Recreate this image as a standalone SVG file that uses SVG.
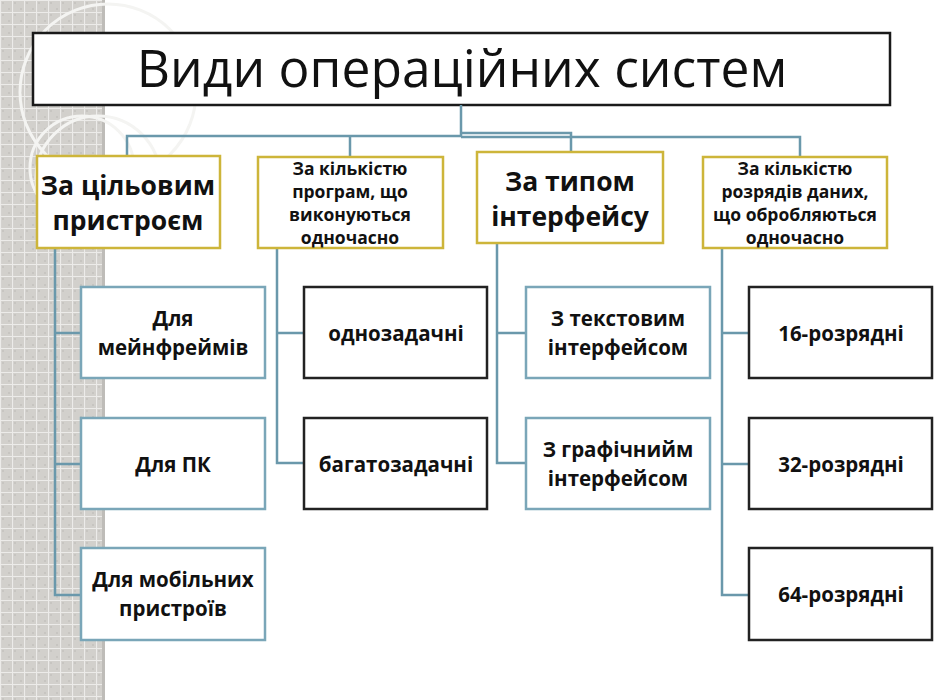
<svg xmlns="http://www.w3.org/2000/svg" width="940" height="700" viewBox="0 0 940 700">
<defs>
<pattern id="grid" width="12" height="12" patternUnits="userSpaceOnUse">
<rect width="12" height="12" fill="#d2d0cc"/>
<circle cx="3" cy="3" r="1" fill="#c4c2be"/>
<circle cx="9" cy="9" r="1" fill="#c4c2be"/>
<path d="M0 0.5H12M0.5 0V12" stroke="#ecebe9" stroke-width="1.2"/>
</pattern>
<style>
.cat{fill:#fff;stroke:#cdb53a;stroke-width:2.5}
.blue{fill:#fff;stroke:#7aa6b8;stroke-width:2.5}
.blk{fill:#fff;stroke:#222;stroke-width:2.5}
.t{font-family:"Open Sans","Noto Sans","DejaVu Sans",sans-serif;font-weight:bold;fill:#111;text-anchor:middle}
.big{font-size:26.5px}
.sm{font-size:17.5px}
.ch{font-size:20.5px}
.con{fill:none;stroke:#6a98ab;stroke-width:2.5}
</style>
</defs>
<rect width="940" height="700" fill="#fff"/>
<rect x="0" y="0" width="104" height="700" fill="url(#grid)"/>
<rect x="102" y="0" width="3" height="700" fill="#bebcb8"/>
<g fill="none" stroke="#f4f4f2" stroke-width="3">
<circle cx="108" cy="92" r="88"/>
<circle cx="82" cy="168" r="52"/>
<circle cx="98" cy="178" r="62"/>
</g>
<g id="title">
<rect x="33" y="33" width="857" height="72" fill="#fff" stroke="#1a1a1a" stroke-width="2.5"/>
<text x="462" y="87" font-family="'Open Sans','Noto Sans',sans-serif" font-size="51.5" fill="#111" text-anchor="middle">Види операційних систем</text>
</g>
<g id="connectors">
<path class="con" d="M461 105V136H127V156"/>
<path class="con" d="M461 133H571V152"/>
<path class="con" d="M461 137H800V157"/>
<path class="con" d="M350 136V157"/>
<path class="con" d="M55 248V595H81M55 333H81M55 464H81"/>
<path class="con" d="M277 248V463H304M277 333H304"/>
<path class="con" d="M497 243V463H526M497 333H526"/>
<path class="con" d="M722 248V595H749M722 333H749M722 464H749"/>
</g>
<g id="cat1"><rect class="cat" x="37" y="156" width="183" height="92"/>
<text class="t big" x="128" y="195">За цільовим</text><text class="t big" x="128" y="230">пристроєм</text></g>
<g id="cat2"><rect class="cat" x="258" y="157" width="185" height="91"/>
<text class="t sm" x="350" y="175">За кількістю</text><text class="t sm" x="350" y="198">програм, що</text><text class="t sm" x="350" y="221">виконуються</text><text class="t sm" x="350" y="244">одночасно</text></g>
<g id="cat3"><rect class="cat" x="477" y="152" width="186" height="91"/>
<text class="t big" x="570" y="191">За типом</text><text class="t big" x="570" y="226">інтерфейсу</text></g>
<g id="cat4"><rect class="cat" x="703" y="157" width="184" height="91"/>
<text class="t sm" x="795" y="175">За кількістю</text><text class="t sm" x="795" y="198">розрядів даних,</text><text class="t sm" x="795" y="221">що обробляються</text><text class="t sm" x="795" y="244">одночасно</text></g>
<g id="c1a"><rect class="blue" x="81" y="287" width="184" height="91"/>
<text class="t ch" x="173" y="326">Для</text><text class="t ch" x="173" y="355">мейнфреймів</text></g>
<g id="c1b"><rect class="blue" x="81" y="418" width="184" height="91"/>
<text class="t ch" x="173" y="472">Для ПК</text></g>
<g id="c1c"><rect class="blue" x="81" y="548" width="184" height="92"/>
<text class="t ch" x="173" y="587">Для мобільних</text><text class="t ch" x="173" y="616">пристроїв</text></g>
<g id="c2a"><rect class="blk" x="304" y="287" width="183" height="91"/>
<text class="t ch" x="396" y="341">однозадачні</text></g>
<g id="c2b"><rect class="blk" x="304" y="418" width="183" height="91"/>
<text class="t ch" x="396" y="472">багатозадачні</text></g>
<g id="c3a"><rect class="blue" x="526" y="287" width="184" height="91"/>
<text class="t ch" x="618" y="326">З текстовим</text><text class="t ch" x="618" y="355">інтерфейсом</text></g>
<g id="c3b"><rect class="blue" x="526" y="418" width="184" height="91"/>
<text class="t ch" x="618" y="457">З графічнийм</text><text class="t ch" x="618" y="486">інтерфейсом</text></g>
<g id="c4a"><rect class="blk" x="749" y="287" width="183" height="91"/>
<text class="t ch" x="841" y="341">16-розрядні</text></g>
<g id="c4b"><rect class="blk" x="749" y="418" width="183" height="91"/>
<text class="t ch" x="841" y="472">32-розрядні</text></g>
<g id="c4c"><rect class="blk" x="749" y="548" width="183" height="92"/>
<text class="t ch" x="841" y="602">64-розрядні</text></g>
</svg>
